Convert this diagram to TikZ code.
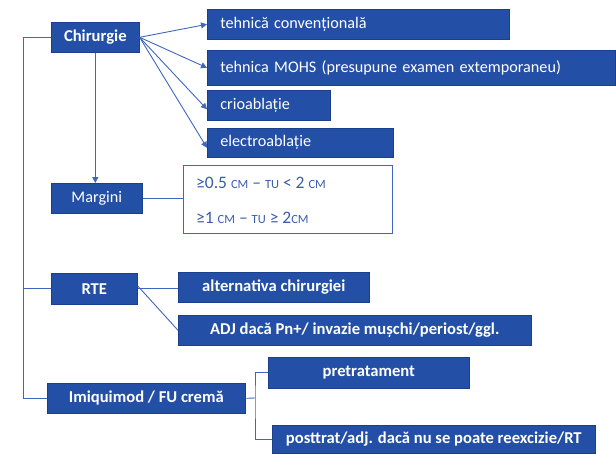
\documentclass[tikz,border=0pt]{standalone}
\usepackage{fontspec}
\setmainfont{Carlito}
\usetikzlibrary{arrows.meta}
\definecolor{boxblue}{HTML}{2350A6}
\definecolor{boxedge}{HTML}{1A3F8C}
\definecolor{lineblue}{HTML}{3F67BF}
\definecolor{txtblue}{HTML}{3A5CAE}
\newcommand{\smcp}[1]{{\fontsize{12.5}{13}\selectfont #1}}
\tikzset{
  box/.style={fill=boxblue, draw=boxedge, line width=0.6pt, text=white, inner sep=0pt, anchor=north west, font=\fontsize{16.2}{18}\selectfont},
  lbox/.style={box, inner xsep=13pt, align=left},
  bbox/.style={box, font=\fontsize{16.6}{18}\selectfont\bfseries},
  mtext/.style={anchor=west, text=txtblue, font=\fontsize{17.5}{19}\selectfont, inner sep=0pt},
  conn/.style={draw=lineblue, line width=0.9pt},
  arr/.style={conn, -{Triangle[length=6pt,width=6pt]}}
}
\begin{document}
\begin{tikzpicture}[x=1pt,y=-1pt]
\useasboundingbox (0,0) rectangle (616,453);
\fill[white] (0,0) rectangle (616,453);
\node[bbox, minimum width=88, minimum height=30] (chir) at (51,22) {Chirurgie};
\node[lbox, text width=276, minimum height=30] (t1) at (207,9) {tehnică convențională};
\node[lbox, text width=382, minimum height=35] (t2) at (207,50) {tehnica MOHS (presupune examen extemporaneu)};
\node[lbox, text width=97, minimum height=30] (t3) at (207,90) {crioablație};
\node[lbox, text width=160, minimum height=29] (t4) at (207,128) {electroablație};
\node[box, minimum width=91, minimum height=30] (marg) at (51,183) {Margini};
\node[draw=lineblue, line width=0.9pt, fill=white, anchor=north west, minimum width=209, minimum height=68, inner sep=0pt] (mbox) at (183,165) {};
\node[mtext] (m1) at (196,183) {≥0.5 \smcp{CM} – \smcp{TU} < 2 \smcp{CM}};
\node[mtext] (m2) at (196,218) {≥1 \smcp{CM} – \smcp{TU} ≥ 2\smcp{CM}};
\node[bbox, minimum width=86, minimum height=31] (rte) at (51,273) {RTE};
\node[bbox, minimum width=191, minimum height=30] (alt) at (178,272) {alternativa chirurgiei};
\node[bbox, minimum width=353, minimum height=30] (adj) at (178,315) {ADJ dacă Pn+/ invazie mușchi/periost/ggl.};
\node[bbox, minimum width=198, minimum height=30] (imi) at (47,383) {Imiquimod / FU cremă};
\node[bbox, minimum width=201, minimum height=31] (pre) at (268,357) {pretratament};
\node[bbox, minimum width=323, minimum height=28] (post) at (272,425) {posttrat/adj. dacă nu se poate reexcizie/RT};
\coordinate (L) at (23,0);
\coordinate (J) at (255,398);
% connectors
\draw[conn] (chir.west) -- (chir.west -| L) |- (imi.west);
\draw[conn] (rte.west) -- (rte.west -| L);
\draw[arr] (chir.south) -- (chir.south |- marg.north);
\draw[arr] (chir.east) -- (t1.west);
\draw[arr] (chir.east) -- (t2.west);
\draw[arr] (chir.east) -- ([yshift=-4]t3.west);
\draw[arr] (chir.east) -- ([yshift=-5]t4.west);
\draw[conn] (marg.east) -- (marg.east -| mbox.west);
\draw[conn] (rte.east) -- (rte.east -| alt.west);
\draw[conn] ([yshift=3]rte.east) -- (adj.west);
\draw[conn] (imi.east) -- (J);
\draw[conn] (pre.west) -| (J) |- (post.west);
\end{tikzpicture}
\end{document}
